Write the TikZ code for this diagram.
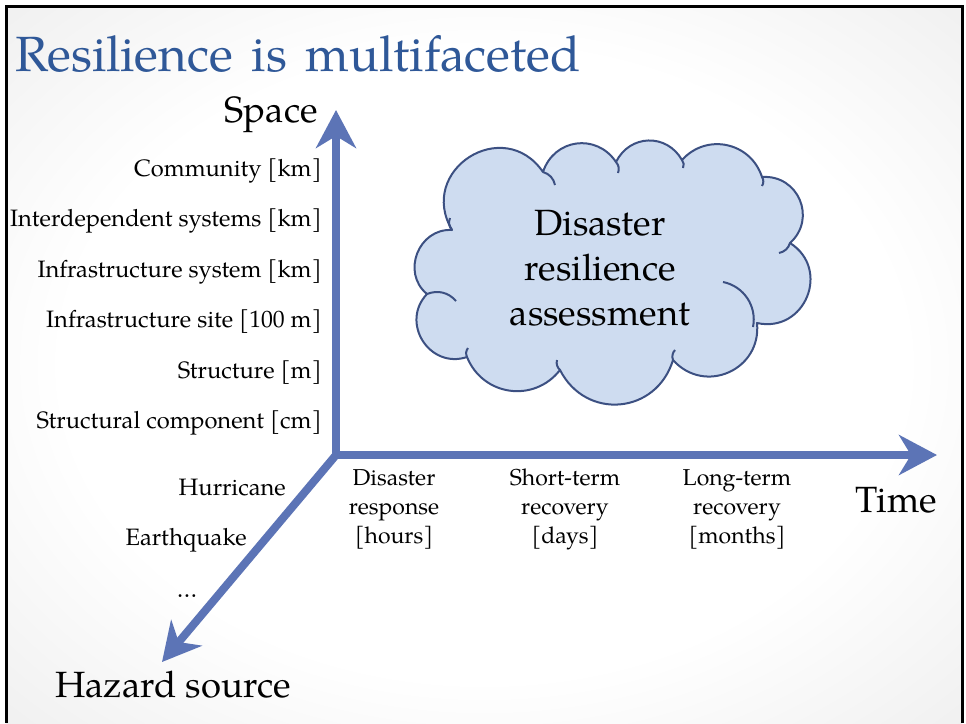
\documentclass[tikz,border=0pt]{standalone}
\usepackage{fontspec}
\setmainfont{TeX Gyre Pagella}
\usetikzlibrary{arrows.meta}

\definecolor{titleblue}{RGB}{47,88,152}
\definecolor{axisblue}{RGB}{92,116,182}
\definecolor{cloudfill}{RGB}{206,220,240}
\definecolor{cloudline}{RGB}{60,80,130}
\definecolor{edgegray}{RGB}{214,214,214}

\pgfdeclareradialshading{slidebg}{\pgfpoint{0bp}{0bp}}{%
  color(0bp)=(white); color(22bp)=(white); color(50bp)=(edgegray!75!white); color(72bp)=(edgegray)}

\tikzset{
  axis/.style={draw=axisblue, line width=8pt,
    -{Stealth[length=38pt, width=40pt, inset=12pt]}},
  biglabel/.style={inner sep=0pt, font=\fontsize{36.5}{44}\selectfont},
  scalelabel/.style={inner sep=0pt, anchor=base east, font=\fontsize{23.7}{28}\selectfont},
  phaselabel/.style={inner sep=0pt, anchor=base, align=center,
    font=\fontsize{23}{29}\selectfont},
  cloudpath/.style={draw=cloudline, line width=2pt, line join=round},
}

\begin{document}
\begin{tikzpicture}[x=1pt, y=-1pt]
\useasboundingbox (0,0) rectangle (966,723);

% slide background and frame
\fill[white] (0,0) rectangle (966,723);
\shade[shading=slidebg] (6,6) rectangle (962,723);
\draw[line width=3.5pt] (6.5,723) -- (6.5,6.5) -- (962.5,6.5) -- (962.5,723);

% title
\node[anchor=base west, inner sep=0pt, text=titleblue,
      font=\fontsize{49.5}{60}\selectfont] (title) at (15,71)
  {Resilience\hspace{0.38em}is\hspace{0.38em}multifaceted};

% axes
\coordinate (o) at (336,455);
\coordinate (spacetip) at (336,110);
\coordinate (timetip) at (937,455);
\coordinate (hazardtip) at (162,662);
\draw[axis, {Stealth[length=38pt, width=40pt, inset=12pt]}-{Stealth[length=38pt, width=40pt, inset=12pt]}, line join=miter]
  (spacetip) -- (o) -- (timetip);
\draw[axis] (o) -- (hazardtip);

% axis names
\node[biglabel, anchor=base east] (space) at (318,122) {Space};
\node[biglabel, anchor=base east] (time) at (937,512) {Time};
\node[biglabel, anchor=base west] (hazard) at (55,697) {Hazard source};

% spatial scales
\node[scalelabel] (s1) at (322,176) {Community [km]};
\node[scalelabel] (s2) at (322,226.5) {Interdependent systems [km]};
\node[scalelabel] (s3) at (322,277) {Infrastructure system [km]};
\node[scalelabel] (s4) at (322,327.5) {Infrastructure site [100 m]};
\node[scalelabel] (s5) at (322,378) {Structure [m]};
\node[scalelabel] (s6) at (322,428.5) {Structural component [cm]};

% hazards
\node[scalelabel] (h1) at (286,495) {Hurricane};
\node[scalelabel] (h2) at (247,545) {Earthquake};
\node[scalelabel, anchor=base] (h3) at (187,597) {\ldots};

% time phases (anchored at the baseline of the last line)
\node[phaselabel] (t1) at (394,543) {Disaster\\response\\[0pt][hours]};
\node[phaselabel] (t2) at (565,543) {Short-term\\recovery\\[0pt][days]};
\node[phaselabel] (t3) at (737,543) {Long-term\\recovery\\[0pt][months]};

% cloud
\coordinate (v1) at (452,230);
\coordinate (v2) at (543,172);
\coordinate (v3) at (616,162);
\coordinate (v4) at (682,160);
\coordinate (v5) at (762,177);
\coordinate (v6) at (790,243);
\coordinate (v7) at (757,323);
\coordinate (v8) at (673,360);
\coordinate (v9) at (560,370);
\coordinate (v10) at (467,357);
\coordinate (v11) at (427,294);
\path[cloudpath, fill=cloudfill]
  (v1) to[bend left=88, looseness=1.65] (v2)
       to[bend left=64, looseness=1.22] (v3)
       to[bend left=62, looseness=1.20] (v4)
       to[bend left=60, looseness=1.15] (v5)
       to[bend left=71, looseness=1.30] (v6)
       to[bend left=80, looseness=1.45] (v7)
       to[bend left=72, looseness=1.32] (v8)
       to[bend left=68, looseness=1.28] (v9)
       to[bend left=60, looseness=1.15] (v10)
       to[bend left=76, looseness=1.35] (v11)
       to[bend left=72, looseness=1.25] (v1) -- cycle;
% inner puff edges
\draw[cloudpath] (v2) to[bend left=30] (555,185);
\draw[cloudpath] (v3) to[bend left=30] (618,173);
\draw[cloudpath] (v4) to[bend left=30] (683,168);
\draw[cloudpath] (v5) to[bend left=30] (762,186);
\draw[cloudpath] (v6) to[bend left=30] (779,253);
\draw[cloudpath] (723,282) to[bend left=45] (753,327);
\draw[cloudpath] (v8) to[bend left=30] (675,350);
\draw[cloudpath] (v9) to[bend left=30] (557,360);
\draw[cloudpath] (v10) to[bend left=30] (468,348);
\draw[cloudpath] (v11) to[bend left=35] (456,301);
\draw[cloudpath] (v1) to[bend left=30] (450,218);

% cloud text (anchored at the baseline of the last line)
\node[inner sep=0pt, align=center, anchor=base, font=\fontsize{36.5}{45}\selectfont]
  (cloudtext) at (600,325) {Disaster\\resilience\\assessment};
\end{tikzpicture}
\end{document}
